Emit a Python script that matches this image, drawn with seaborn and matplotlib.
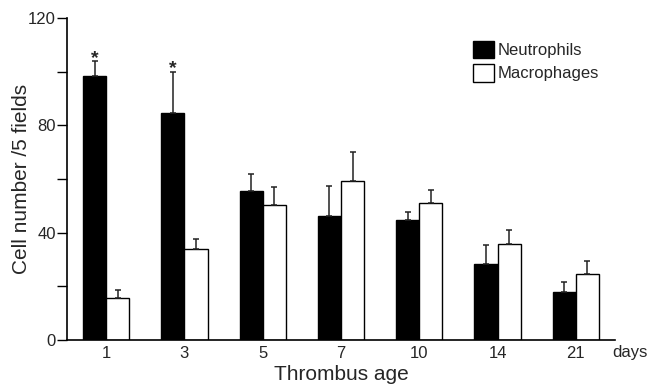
import numpy as np
import pandas as pd
import matplotlib
matplotlib.use("Agg")
import matplotlib.pyplot as plt
import seaborn as sns
from matplotlib.patches import Patch

days = ["1", "3", "5", "7", "10", "14", "21"]
neutrophils = [98.4, 84.7, 55.5, 46.3, 44.7, 28.4, 18.0]
neutrophils_err = [5.6, 15.3, 6.2, 11.2, 3.1, 7.0, 3.5]
macrophages = [15.8, 34.0, 50.3, 59.4, 50.9, 35.7, 24.5]
macrophages_err = [2.8, 3.6, 6.8, 10.8, 5.0, 5.3, 5.1]
significant = ["1", "3"]

sns.set_style("ticks")
plt.rcParams["font.family"] = ["Liberation Sans", "DejaVu Sans"]

data = pd.DataFrame({
    "day": days * 2,
    "cells": neutrophils + macrophages,
    "err": neutrophils_err + macrophages_err,
    "type": ["Neutrophils"] * len(days) + ["Macrophages"] * len(days),
})

fig = plt.figure(figsize=(6.49, 3.85), dpi=100)
ax = fig.add_axes([67 / 649, 1 - 340 / 385, 548 / 649, 322 / 385])

sns.barplot(data=data, x="day", y="cells", hue="type", order=days,
            hue_order=["Neutrophils", "Macrophages"],
            palette={"Neutrophils": "black", "Macrophages": "white"},
            edgecolor="black", linewidth=1.0, width=0.59, gap=0,
            errorbar=None, legend=False, ax=ax)

# upper-only error bars on top of each bar
bars = [p for p in ax.patches if p.get_height() > 0]
bars = sorted(bars, key=lambda p: p.get_x())
lookup = {}
for i, d in enumerate(days):
    lookup[(i, "Neutrophils")] = (neutrophils[i], neutrophils_err[i])
    lookup[(i, "Macrophages")] = (macrophages[i], macrophages_err[i])
for p in bars:
    cx = p.get_x() + p.get_width() / 2
    i = int(round(cx))
    kind = "Neutrophils" if cx < i else "Macrophages"
    val, err = lookup[(i, kind)]
    ax.errorbar(cx, val, yerr=[[0], [err]], fmt="none", ecolor="#222222",
                elinewidth=1.1, capsize=2.5, capthick=1.1, zorder=3)
    if kind == "Neutrophils" and days[i] in significant:
        ax.text(cx, val + err + 1.0, "*", ha="center", va="center",
                fontsize=14, fontweight="bold")

ax.set_xlim(-0.5, 6.5)
ax.set_ylim(0, 120)
ax.set_yticks(np.arange(0, 121, 20))
ax.set_yticklabels(["0", "", "40", "", "80", "", "120"])
ax.tick_params(axis="y", length=7, width=1, labelsize=12, pad=1, color="black")
ax.tick_params(axis="x", length=0, labelsize=12, pad=4)
for s in ["left", "bottom"]:
    ax.spines[s].set_linewidth(1.2)
    ax.spines[s].set_color("black")
sns.despine(ax=ax)

ax.set_xlabel("Thrombus age", fontsize=15, labelpad=3)
ax.set_ylabel("Cell number /5 fields", fontsize=15, labelpad=-2)
ax.text(0.995, -0.015, "days", transform=ax.transAxes, fontsize=12,
        ha="left", va="top")

handles = [Patch(facecolor="black", edgecolor="black", label="Neutrophils"),
           Patch(facecolor="white", edgecolor="black", label="Macrophages")]
ax.legend(handles=handles, loc="upper left", bbox_to_anchor=(0.741, 0.93),
          frameon=False, fontsize=12, handlelength=1.25, handleheight=1.25,
          handletextpad=0.25, labelspacing=0.35, borderpad=0, borderaxespad=0)

fig.savefig("out.png", dpi=100)
